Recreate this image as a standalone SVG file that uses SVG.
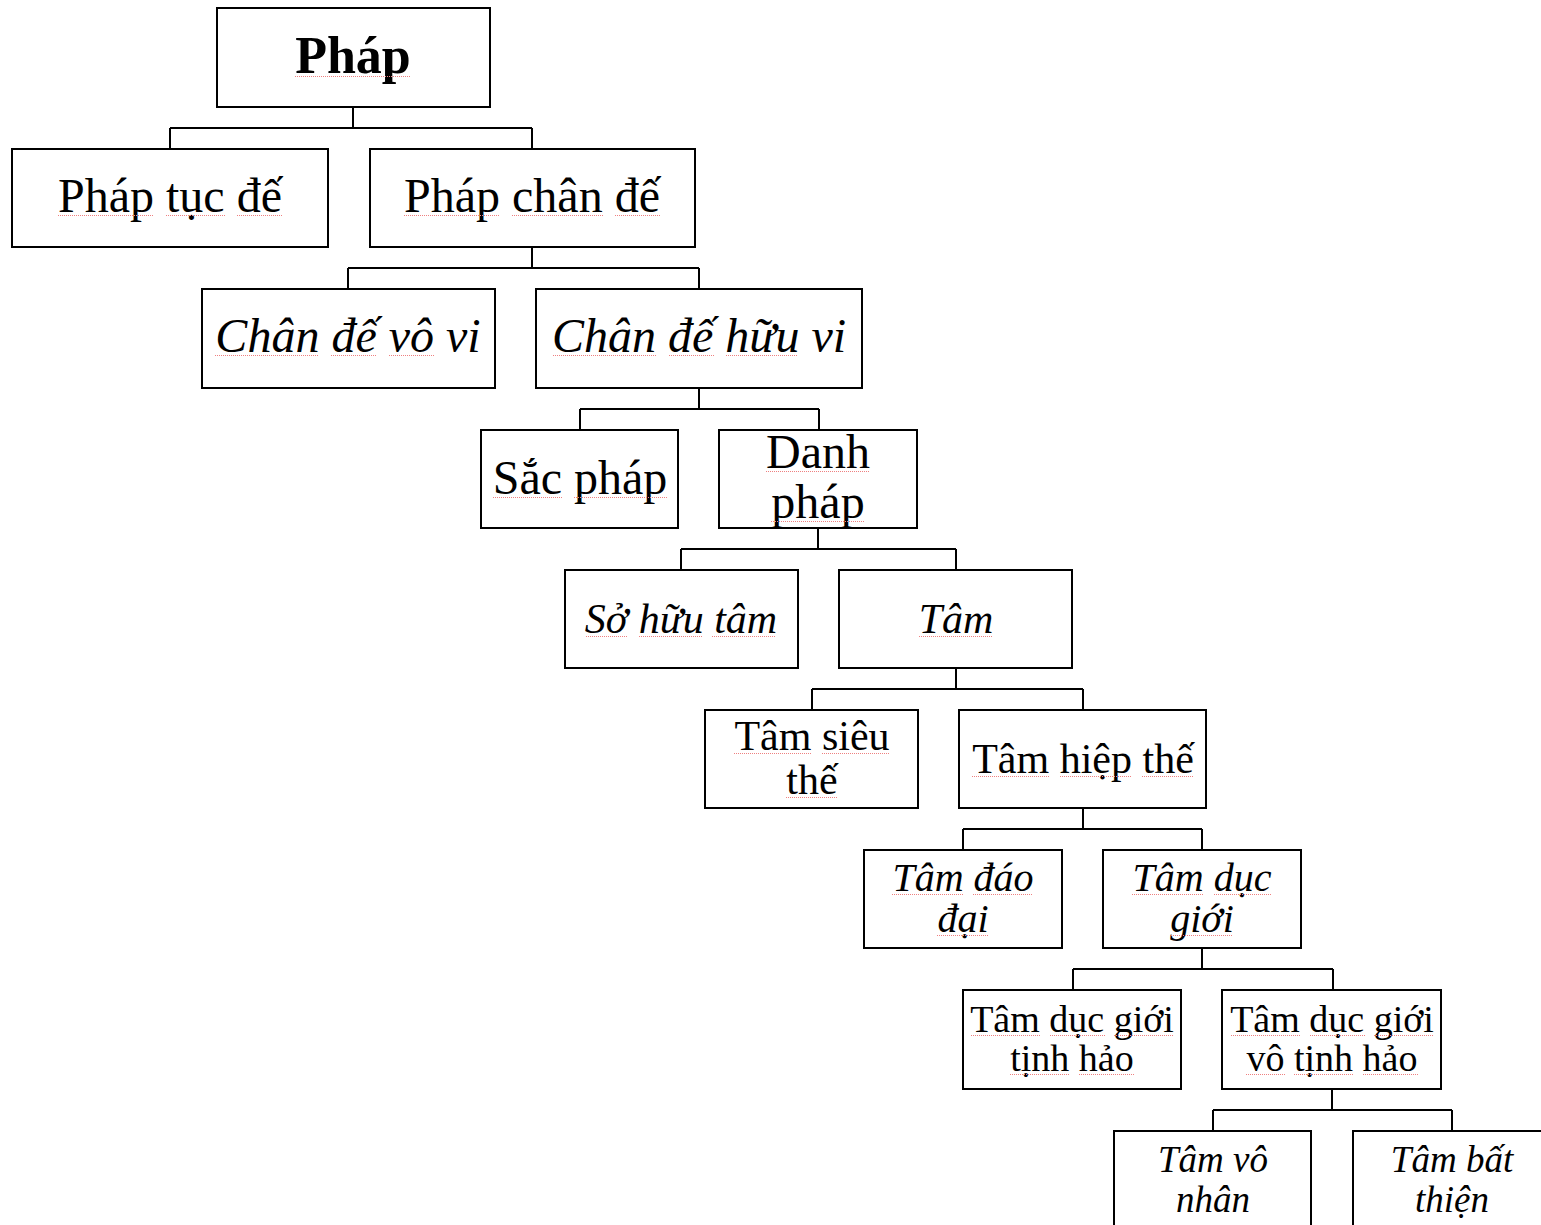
<svg xmlns="http://www.w3.org/2000/svg" width="1541" height="1225" viewBox="0 0 1541 1225">
  <style>
    .box { fill: #ffffff; stroke: #000000; stroke-width: 2; }
    .wire { fill: none; stroke: #000000; stroke-width: 2; }
    .sq { fill: none; stroke: #ee8080; stroke-width: 1.2; stroke-dasharray: 1 1; }
    text { font-family: "Liberation Serif", "Times New Roman", serif; fill: #000000; text-anchor: middle; }
    .b { font-weight: bold; }
    .i { font-style: italic; }
  </style>
  <rect width="1541" height="1225" fill="#ffffff"/>

  <g id="connectors">
    <path class="wire" d="M353 107 V128 M170 128 H532 M170 128 V149 M532 128 V149"/>
    <path class="wire" d="M532 247 V268 M348 268 H699 M348 268 V289 M699 268 V289"/>
    <path class="wire" d="M699 388 V409 M580 409 H819 M580 409 V430 M819 409 V430"/>
    <path class="wire" d="M818 528 V549 M681 549 H956 M681 549 V570 M956 549 V570"/>
    <path class="wire" d="M956 668 V689 M812 689 H1083 M812 689 V710 M1083 689 V710"/>
    <path class="wire" d="M1083 808 V829 M963 829 H1202 M963 829 V850 M1202 829 V850"/>
    <path class="wire" d="M1202 948 V969 M1073 969 H1333 M1073 969 V990 M1333 969 V990"/>
    <path class="wire" d="M1332 1089 V1110 M1213 1110 H1452 M1213 1110 V1131 M1452 1110 V1131"/>
  </g>

  <g id="n-phap">
    <rect class="box" x="217" y="8" width="273" height="99"/>
    <text class="b" x="353" y="73" font-size="52">Pháp</text>
    <path class="sq" d="M295 76.5 H411"/>
  </g>

  <g id="n-phap-tuc-de">
    <rect class="box" x="12" y="149" width="316" height="98"/>
    <text x="170" y="212" font-size="48">Pháp tục đế</text>
    <path class="sq" d="M58 215.5 H154 M166 215.5 H225 M237 215.5 H282"/>
  </g>

  <g id="n-phap-chan-de">
    <rect class="box" x="370" y="149" width="325" height="98"/>
    <text x="532" y="212" font-size="48">Pháp chân đế</text>
    <path class="sq" d="M404 215.5 H500 M512 215.5 H603 M615 215.5 H660"/>
  </g>

  <g id="n-chan-de-vo-vi">
    <rect class="box" x="202" y="289" width="293" height="99"/>
    <text class="i" x="348" y="352" font-size="48">Chân đế vô vi</text>
    <path class="sq" d="M215 355.5 H319 M331 355.5 H377 M389 355.5 H434"/>
  </g>

  <g id="n-chan-de-huu-vi">
    <rect class="box" x="536" y="289" width="326" height="99"/>
    <text class="i" x="699" y="352" font-size="48">Chân đế hữu vi</text>
    <path class="sq" d="M553 355.5 H657 M669 355.5 H714 M726 355.5 H798"/>
  </g>

  <g id="n-sac-phap">
    <rect class="box" x="481" y="430" width="197" height="98"/>
    <text x="580" y="494" font-size="48">Sắc pháp</text>
    <path class="sq" d="M493 497.5 H562 M574 497.5 H667"/>
  </g>

  <g id="n-danh-phap">
    <rect class="box" x="719" y="430" width="198" height="98"/>
    <text x="818" y="468" font-size="48">Danh</text>
    <text x="818" y="518" font-size="48">pháp</text>
    <path class="sq" d="M766 471.5 H870 M771 521.5 H865"/>
  </g>

  <g id="n-so-huu-tam">
    <rect class="box" x="565" y="570" width="233" height="98"/>
    <text class="i" x="681" y="633" font-size="42">Sở hữu tâm</text>
    <path class="sq" d="M586 636.5 H628 M639 636.5 H702 M712 636.5 H776"/>
  </g>

  <g id="n-tam">
    <rect class="box" x="839" y="570" width="233" height="98"/>
    <text class="i" x="956" y="633" font-size="42">Tâm</text>
    <path class="sq" d="M919 636.5 H993"/>
  </g>

  <g id="n-tam-sieu-the">
    <rect class="box" x="705" y="710" width="213" height="98"/>
    <text x="812" y="750" font-size="42">Tâm siêu</text>
    <text x="812" y="794" font-size="42">thế</text>
    <path class="sq" d="M734 753.5 H811 M822 753.5 H890 M786 797.5 H838"/>
  </g>

  <g id="n-tam-hiep-the">
    <rect class="box" x="959" y="710" width="247" height="98"/>
    <text x="1083" y="773" font-size="42">Tâm hiệp thế</text>
    <path class="sq" d="M972 776.5 H1049 M1060 776.5 H1132 M1142 776.5 H1194"/>
  </g>

  <g id="n-tam-dao-dai">
    <rect class="box" x="864" y="850" width="198" height="98"/>
    <text class="i" x="963" y="891" font-size="40">Tâm đáo</text>
    <text class="i" x="963" y="932" font-size="40">đại</text>
    <path class="sq" d="M892 894.5 H963 M973 894.5 H1033 M937 935.5 H988"/>
  </g>

  <g id="n-tam-duc-gioi">
    <rect class="box" x="1103" y="850" width="198" height="98"/>
    <text class="i" x="1202" y="891" font-size="40">Tâm dục</text>
    <text class="i" x="1202" y="932" font-size="40">giới</text>
    <path class="sq" d="M1132 894.5 H1204 M1214 894.5 H1271 M1171 935.5 H1233"/>
  </g>

  <g id="n-tam-duc-gioi-tinh-hao">
    <rect class="box" x="963" y="990" width="218" height="99"/>
    <text x="1072" y="1032" font-size="38">Tâm dục giới</text>
    <text x="1072" y="1071" font-size="38">tịnh hảo</text>
    <path class="sq" d="M971 1035.5 H1040 M1050 1035.5 H1105 M1114 1035.5 H1173 M1010 1074.5 H1069 M1079 1074.5 H1134"/>
  </g>

  <g id="n-tam-duc-gioi-vo-tinh-hao">
    <rect class="box" x="1222" y="990" width="219" height="99"/>
    <text x="1332" y="1032" font-size="38">Tâm dục giới</text>
    <text x="1332" y="1071" font-size="38">vô tịnh hảo</text>
    <path class="sq" d="M1231 1035.5 H1300 M1310 1035.5 H1365 M1374 1035.5 H1433 M1246 1074.5 H1285 M1294 1074.5 H1353 M1363 1074.5 H1418"/>
  </g>

  <g id="n-tam-vo-nhan">
    <rect class="box" x="1114" y="1131" width="197" height="110"/>
    <text class="i" x="1213" y="1172" font-size="37">Tâm vô</text>
    <text class="i" x="1213" y="1212" font-size="37">nhân</text>
  </g>

  <g id="n-tam-bat-thien">
    <rect class="box" x="1353" y="1131" width="197" height="110"/>
    <text class="i" x="1452" y="1172" font-size="37">Tâm bất</text>
    <text class="i" x="1452" y="1212" font-size="37">thiện</text>
  </g>
</svg>
